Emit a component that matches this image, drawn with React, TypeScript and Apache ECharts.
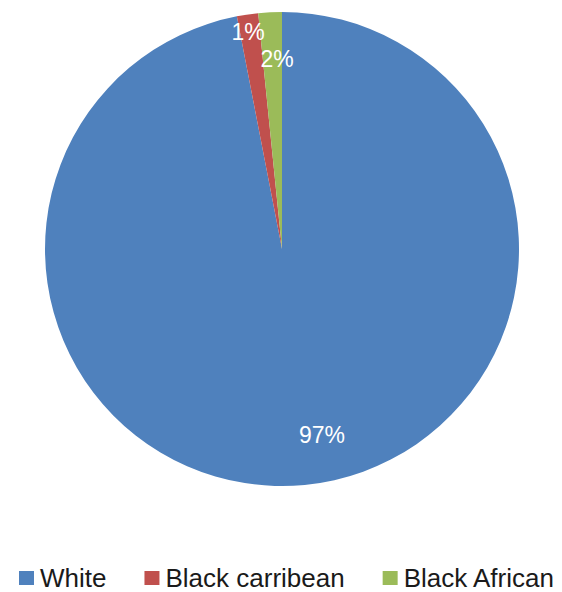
import React, { useEffect, useRef } from "react";
import * as echarts from "echarts";

const categories = ["White", "Black carribean", "Black African"];
const values = [96.95, 1.45, 1.6];
const colors = ["#4F81BD", "#C0504D", "#9BBB59"];

const CX = 282;
const CY = 249;
const R = 237;
// label offsets relative to pie centre (layout only)
const labelOffsets = [
  [40, 186],
  [-34, -217],
  [-5, -190],
];

export default function App() {
  const ref = useRef<HTMLDivElement>(null);
  useEffect(() => {
    if (!ref.current) return;
    const chart = echarts.init(ref.current, null, { renderer: "svg" });
    chart.setOption({
      animation: false,
      backgroundColor: "#ffffff",
      color: colors,
      legend: {
        data: categories,
        left: 14,
        top: 559,
        icon: "rect",
        itemWidth: 15,
        itemHeight: 14,
        itemGap: 38,
        selectedMode: false,
        textStyle: {
          fontFamily: "Liberation Sans",
          fontSize: 26,
          color: "#1a1a1a",
          lineHeight: 28,
          padding: [0, 0, 0, 1],
        },
      },
      series: [
        {
          type: "pie",
          center: [CX, CY],
          radius: [0, R],
          startAngle: 90,
          clockwise: true,
          silent: true,
          emphasis: { disabled: true },
          itemStyle: { borderWidth: 0 },
          label: {
            show: true,
            position: "inside",
            color: "#ffffff",
            fontFamily: "Liberation Sans",
            fontSize: 23,
            formatter: (p: any) => Math.round(p.percent) + "%",
          },
          labelLine: { show: false },
          labelLayout: (p: any) => {
            const o = labelOffsets[p.dataIndex];
            return {
              x: CX + o[0],
              y: CY + o[1],
              align: "center",
              verticalAlign: "middle",
            };
          },
          data: categories.map((name, i) => ({ name, value: values[i] })),
        },
      ],
    });
    return () => chart.dispose();
  }, []);
  return (
    <div
      ref={ref}
      style={{ position: "fixed", left: 0, top: 0, width: 562, height: 592 }}
    />
  );
}
